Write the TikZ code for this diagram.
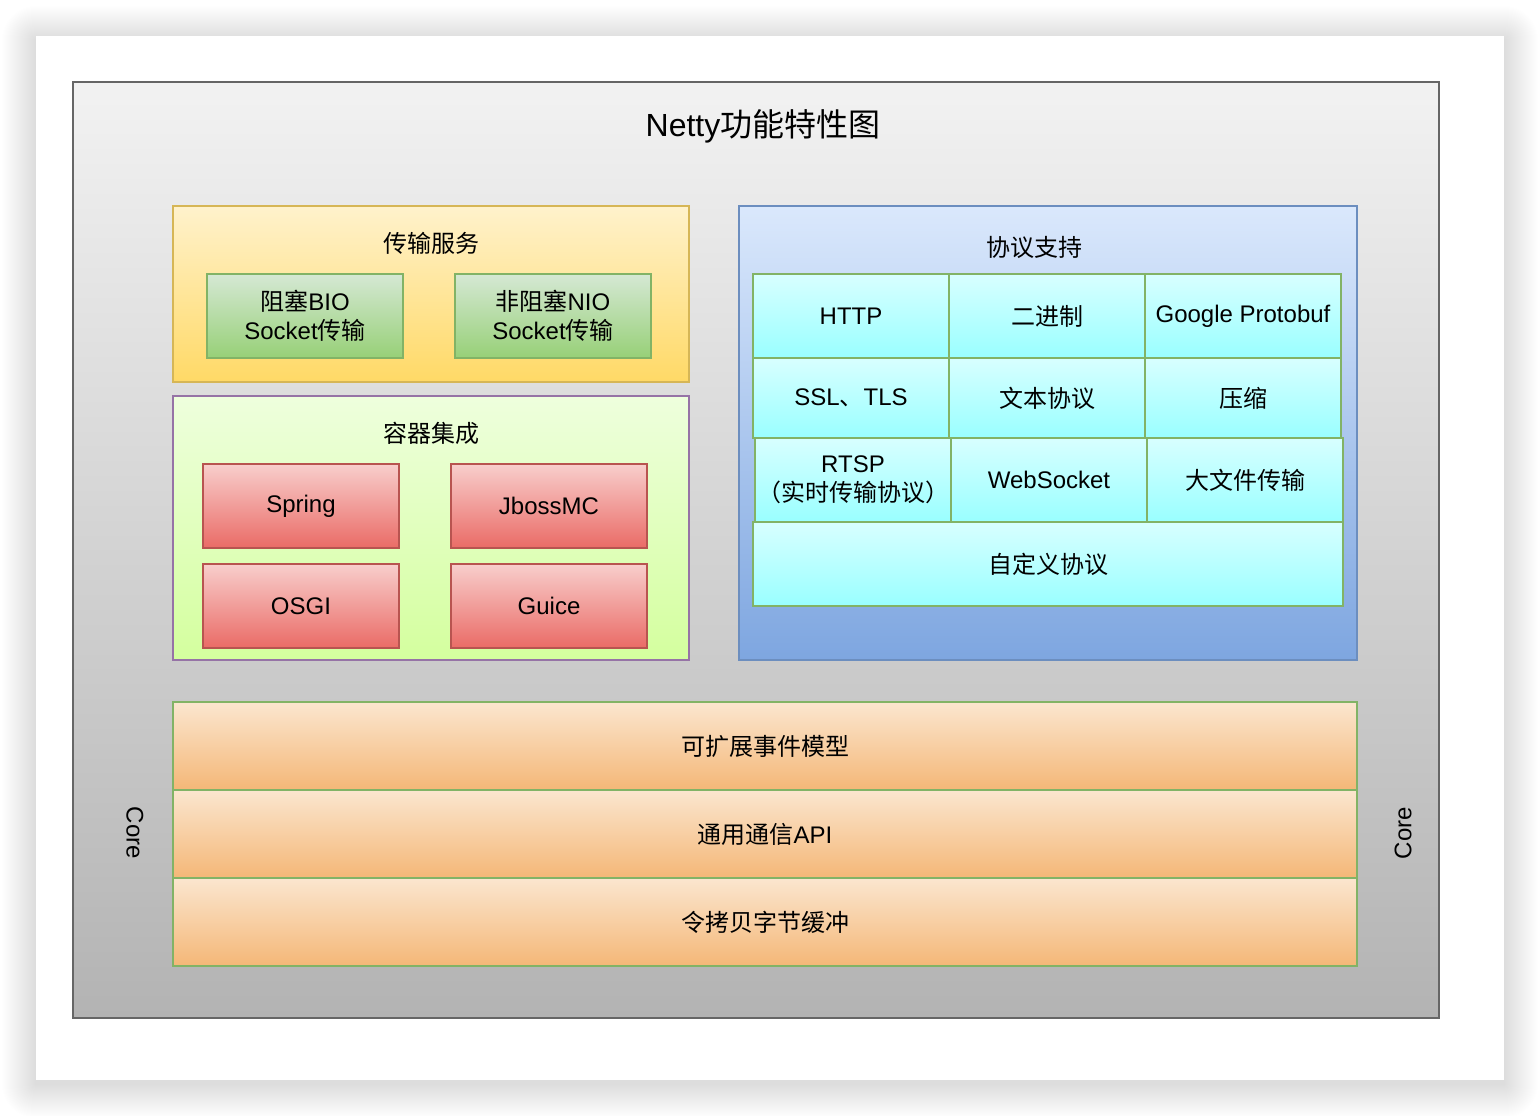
\documentclass[tikz,border=0pt]{standalone}
\usepackage{fontspec}
\setmainfont{Liberation Sans}
\newfontfamily\cjk{Noto Sans CJK SC}
\newcommand\zh[1]{{\cjk #1}}
\definecolor{frameTop}{HTML}{F2F2F2}
\definecolor{frameBot}{HTML}{B3B3B3}
\definecolor{frameLine}{HTML}{666666}
\definecolor{yTop}{HTML}{FFF2CC}
\definecolor{yBot}{HTML}{FFD966}
\definecolor{yLine}{HTML}{D6B656}
\definecolor{gTop}{HTML}{D5E8D4}
\definecolor{gBot}{HTML}{97D077}
\definecolor{gLine}{HTML}{82B366}
\definecolor{lgTop}{HTML}{EEFFDD}
\definecolor{lgBot}{HTML}{D4FF9E}
\definecolor{pLine}{HTML}{9673A6}
\definecolor{rTop}{HTML}{F8CECC}
\definecolor{rBot}{HTML}{EA6B66}
\definecolor{rLine}{HTML}{B85450}
\definecolor{bTop}{HTML}{DAE8FC}
\definecolor{bBot}{HTML}{7EA6E0}
\definecolor{bLine}{HTML}{6C8EBF}
\definecolor{cTop}{HTML}{D8FFFF}
\definecolor{cBot}{HTML}{99FFFF}
\definecolor{oTop}{HTML}{FBE6CF}
\definecolor{oBot}{HTML}{F4B777}
\begin{document}
\begin{tikzpicture}[x=1pt,y=-1pt,
  base/.style={line width=2pt, inner sep=0pt, outer sep=0pt, anchor=north west, align=center, font=\fontsize{24}{29}\selectfont},
  groupbox/.style={base, minimum width=516pt},
  greenbox/.style={base, draw=gLine, top color=gTop, bottom color=gBot, minimum width=196pt, minimum height=84pt},
  redbox/.style={base, draw=rLine, top color=rTop, bottom color=rBot, minimum width=196pt, minimum height=84pt},
  cell/.style={base, draw=gLine, top color=cTop, bottom color=cBot, minimum width=196pt, minimum height=84pt},
  layer/.style={base, draw=gLine, top color=oTop, bottom color=oBot, minimum width=1184pt, minimum height=88pt},
  grouptitle/.style={font=\fontsize{24}{29}\selectfont, inner sep=0pt},
  corelabel/.style={font=\fontsize{24}{29}\selectfont, inner sep=0pt}
]
\useasboundingbox (0,0) rectangle (1540,1116);
% soft shadow of the card
\foreach \i in {1,...,34}{
  \fill[black, opacity=0.0055, rounded corners=\i] (36-\i,40-\i) rectangle (1504+\i,1084+\i);
}
\fill[white] (36,36) rectangle (1504,1080);
% frame
\node[base, draw=frameLine, top color=frameTop, bottom color=frameBot, minimum width=1366pt, minimum height=936pt] (frame) at (73,82) {};
\node[font=\fontsize{32}{38}\selectfont, inner sep=0pt] (title) at (763,126) {Netty\zh{功能特性图}};
% transport
\node[groupbox, draw=yLine, top color=yTop, bottom color=yBot, minimum height=176pt] (trans) at (173,206) {};
\node[grouptitle] (transT) at (431,243) {\zh{传输服务}};
\node[greenbox] (bio) at (207,274) {\zh{阻塞}BIO\\Socket\zh{传输}};
\node[greenbox] (nio) at (455,274) {\zh{非阻塞}NIO\\Socket\zh{传输}};
% container
\node[groupbox, draw=pLine, top color=lgTop, bottom color=lgBot, minimum height=264pt] (cont) at (173,396) {};
\node[grouptitle] (contT) at (431,433) {\zh{容器集成}};
\node[redbox] (spring) at (203,464) {Spring};
\node[redbox] (jboss) at (451,464) {JbossMC};
\node[redbox] (osgi) at (203,564) {OSGI};
\node[redbox] (guice) at (451,564) {Guice};
% protocol
\node[base, draw=bLine, top color=bTop, bottom color=bBot, minimum width=618pt, minimum height=454pt] (proto) at (739,206) {};
\node[grouptitle] (protoT) at (1034,247) {\zh{协议支持}};
\node[cell] (http) at (753,274) {HTTP};
\node[cell] (bin) at (949,274) {\zh{二进制}};
\node[cell] (pb) at (1145,274) {Google Protobuf};
\node[cell, minimum height=80pt] (ssl) at (753,358) {SSL\zh{、}TLS};
\node[cell, minimum height=80pt] (text) at (949,358) {\zh{文本协议}};
\node[cell, minimum height=80pt] (zip) at (1145,358) {\zh{压缩}};
\node[cell] (rtsp) at (755,438) {RTSP\\\zh{（实时传输协议）}};
\node[cell] (ws) at (951,438) {WebSocket};
\node[cell] (big) at (1147,438) {\zh{大文件传输}};
\node[cell, minimum width=590pt] (custom) at (753,522) {\zh{自定义协议}};
% core layers
\node[layer] (event) at (173,702) {\zh{可扩展事件模型}};
\node[layer] (api) at (173,790) {\zh{通用通信}API};
\node[layer] (buf) at (173,878) {\zh{令拷贝字节缓冲}};
\node[corelabel, rotate=-90] (coreL) at (135,833) {Core};
\node[corelabel, rotate=90] (coreR) at (1403,833) {Core};
\end{tikzpicture}
\end{document}
